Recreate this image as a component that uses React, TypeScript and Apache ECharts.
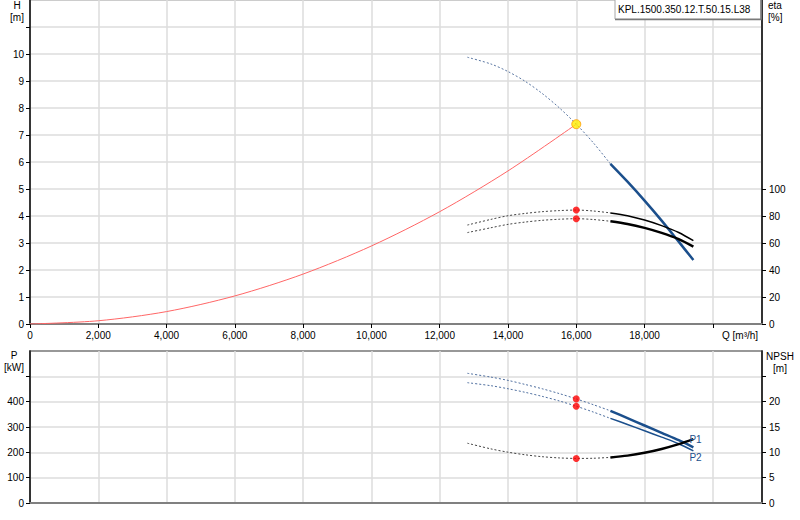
import React, { useEffect, useRef } from 'react';
import * as echarts from 'echarts';

// flow axis (m³/h)
const Q_MAX = 21440;
const X_TICKS = [0, 2000, 4000, 6000, 8000, 10000, 12000, 14000, 16000, 18000, 20000];
const X_LABELS = [0, 2000, 4000, 6000, 8000, 10000, 12000, 14000, 16000, 18000];

// axis tick / label values
const H_TICKS = [0, 1, 2, 3, 4, 5, 6, 7, 8, 9, 10, 11];
const H_LABELS = [0, 1, 2, 3, 4, 5, 6, 7, 8, 9, 10];
const ETA_TICKS = [0, 20, 40, 60, 80, 100];
const P_TICKS = [0, 100, 200, 300, 400, 500];
const P_LABELS = [0, 100, 200, 300, 400];
const NPSH_TICKS = [0, 5, 10, 15, 20, 25];
const NPSH_LABELS = [0, 5, 10, 15, 20];

// system curve
const Q_SYSTEM = [0, 2000, 4000, 6000, 8000, 10000, 12000, 14000, 16000];
const H_SYSTEM = [0, 0.12, 0.46, 1.04, 1.85, 2.89, 4.16, 5.67, 7.4];

// pump curves: dashed part (outside range) and solid part
const Q_DASH = [12810, 13500, 14000, 14500, 15000, 15500, 16000, 16500, 17000];
const Q_SOLID = [17000, 17500, 18000, 18500, 19000, 19430];

const H_DASH = [9.88, 9.63, 9.35, 8.99, 8.54, 8.01, 7.4, 6.71, 5.93];
const H_SOLID = [5.93, 5.27, 4.57, 3.83, 3.05, 2.37];

const ETA1_DASH = [73.3, 77.5, 80.2, 81.9, 83.2, 84.0, 84.4, 83.7, 82.3];
const ETA1_SOLID = [82.3, 80.2, 77.0, 72.9, 67.8, 61.7];
const ETA2_DASH = [67.7, 71.3, 73.8, 75.5, 76.8, 77.6, 78.0, 77.4, 76.1];
const ETA2_SOLID = [76.1, 74.1, 71.2, 67.5, 62.9, 57.3];

const P1_DASH = [512, 497, 484, 468, 451, 432, 411, 388, 364];
const P1_SOLID = [364, 335, 306, 277, 248, 220];
const P2_DASH = [475, 463, 451, 437, 421, 403, 382, 359, 334];
const P2_SOLID = [334, 310, 285, 260, 234, 206];

const NPSH_DASH = [11.8, 10.68, 10.03, 9.52, 9.14, 8.9, 8.8, 8.83, 9.0];
const NPSH_SOLID = [9.0, 9.35, 9.9, 10.66, 11.61, 12.6];

// duty point
const Q_DUTY = 16000;
const H_DUTY = 7.4;
const ETA_DUTY = [84.4, 78.0];
const P_DUTY = [411, 382];
const NPSH_DUTY = 8.8;

const FONT = 'Liberation Sans';
const BLUE = '#1b4f8c';

const pairs = (xs: number[], ys: number[]) => xs.map((x, i) => [x, ys[i]]);
const fmt = (v: number) => v.toLocaleString('en-US');
const last = (a: number[]) => a[a.length - 1];

const curve = (
  xs: number[],
  ys: number[],
  xi: number,
  yi: number,
  color: string,
  width: number,
  dashed: boolean,
) => ({
  type: 'line',
  xAxisIndex: xi,
  yAxisIndex: yi,
  data: pairs(xs, ys),
  smooth: 0.3,
  symbol: 'none',
  silent: true,
  z: dashed ? 3 : 4,
  itemStyle: { color },
  lineStyle: { color, width, type: dashed ? [2, 2] : 'solid' },
});

const dots = (xi: number, yi: number, points: number[][], size = 7) => ({
  type: 'scatter',
  xAxisIndex: xi,
  yAxisIndex: yi,
  data: points,
  symbolSize: size,
  silent: true,
  z: 6,
  itemStyle: { color: '#ff0000' },
});

// curve name tag placed at the last point of a curve
const tag = (text: string, xs: number[], ys: number[], xi: number, yi: number, offset: number[]) => ({
  type: 'scatter',
  xAxisIndex: xi,
  yAxisIndex: yi,
  data: [[last(xs), last(ys)]],
  symbolSize: 0,
  silent: true,
  z: 8,
  itemStyle: { color: BLUE, opacity: 1 },
  label: {
    show: true,
    formatter: text,
    position: 'right',
    distance: 0,
    offset,
    color: BLUE,
    opacity: 1,
    textBorderWidth: 0,
    fontSize: 10,
    fontFamily: FONT,
  },
});

const xAxisBase = (grid: number, labels: boolean) => ({
  gridIndex: grid,
  type: 'value',
  min: 0,
  max: Q_MAX,
  interval: 2000,
  axisLine: { show: true, onZero: false, lineStyle: { color: '#808080', width: 2 } },
  axisTick: labels
    ? { show: true, length: 4, customValues: X_TICKS, lineStyle: { color: '#000' } }
    : { show: false },
  axisLabel: labels
    ? { customValues: X_LABELS, formatter: fmt, color: '#000', fontSize: 10, margin: 6, fontFamily: FONT }
    : { show: false },
  splitLine: { show: true, lineStyle: { color: '#dcdcdc', width: 1.5 } },
});

const yAxisBase = (
  grid: number,
  position: 'left' | 'right',
  max: number,
  interval: number,
  ticks: number[],
  labels: number[],
  split: boolean,
) => ({
  gridIndex: grid,
  type: 'value',
  position,
  min: 0,
  max,
  interval,
  axisLine: { show: true, lineStyle: { color: '#000', width: 1.5 } },
  axisTick: { show: true, length: 4, customValues: ticks, lineStyle: { color: '#000' } },
  axisLabel: {
    customValues: labels,
    color: '#000',
    fontSize: 10,
    margin: position === 'left' ? 6 : 7,
    fontFamily: FONT,
  },
  splitLine: { show: split, lineStyle: { color: '#dcdcdc', width: 1.5 } },
});

const label = (text: string, x: number, y: number, align = 'center') => ({
  type: 'text',
  x,
  y,
  silent: true,
  style: { text, fill: '#000', fontSize: 10, fontFamily: FONT, align, verticalAlign: 'middle' },
});

const option: any = {
  animation: false,
  textStyle: { fontFamily: FONT },
  grid: [
    { left: 30, top: 0, width: 732, height: 324, show: true, borderColor: '#999', borderWidth: 1, outerBoundsMode: 'none' },
    { left: 30, top: 351, width: 732, height: 152, show: true, borderColor: '#777', borderWidth: 1.5, outerBoundsMode: 'none' },
  ],
  xAxis: [xAxisBase(0, true), xAxisBase(1, false)],
  yAxis: [
    yAxisBase(0, 'left', 12, 1, H_TICKS, H_LABELS, true),
    yAxisBase(0, 'right', 240, 20, ETA_TICKS, ETA_TICKS, false),
    yAxisBase(1, 'left', 600, 100, P_TICKS, P_LABELS, true),
    yAxisBase(1, 'right', 30, 5, NPSH_TICKS, NPSH_LABELS, false),
  ],
  graphic: [
    label('H', 17, 5),
    label('[m]', 17, 17),
    label('eta', 768, 5, 'left'),
    label('[%]', 768, 17, 'left'),
    label('Q [m³/h]', 722, 335, 'left'),
    label('P', 14, 355),
    label('[kW]', 14, 367),
    label('NPSH', 780, 356),
    label('[m]', 780, 368),
    {
      type: 'rect',
      silent: true,
      shape: { x: 615, y: -1, width: 146, height: 20 },
      style: { fill: '#fff', stroke: '#a8a8a8', lineWidth: 1 },
      z: 10,
    },
    {
      type: 'polyline',
      silent: true,
      shape: { points: [[761, 0], [761, 19.5], [615, 19.5]] },
      style: { stroke: '#7a7a7a', lineWidth: 1.5, fill: 'none' },
      z: 10,
    },
    { ...label('KPL.1500.350.12.T.50.15.L38', 618, 9.5, 'left'), z: 11 },
  ],
  series: [
    // top chart
    curve(Q_SYSTEM, H_SYSTEM, 0, 0, '#ff6666', 1, false),
    curve(Q_DASH, H_DASH, 0, 0, '#5c78a3', 1, true),
    curve(Q_SOLID, H_SOLID, 0, 0, BLUE, 2.5, false),
    curve(Q_DASH, ETA1_DASH, 0, 1, '#444', 1, true),
    curve(Q_SOLID, ETA1_SOLID, 0, 1, '#000', 1.5, false),
    curve(Q_DASH, ETA2_DASH, 0, 1, '#444', 1, true),
    curve(Q_SOLID, ETA2_SOLID, 0, 1, '#000', 2.5, false),
    dots(0, 1, ETA_DUTY.map((e) => [Q_DUTY, e])),
    {
      type: 'scatter',
      xAxisIndex: 0,
      yAxisIndex: 0,
      data: [[Q_DUTY, H_DUTY]],
      symbolSize: 9,
      silent: true,
      z: 7,
      itemStyle: { color: '#ffee00', borderColor: '#ff9a00', borderWidth: 1 },
    },
    // bottom chart
    curve(Q_DASH, P1_DASH, 1, 2, '#4f6f9f', 1, true),
    curve(Q_SOLID, P1_SOLID, 1, 2, BLUE, 2.5, false),
    curve(Q_DASH, P2_DASH, 1, 2, '#4f6f9f', 1, true),
    curve(Q_SOLID, P2_SOLID, 1, 2, BLUE, 1.5, false),
    curve(Q_DASH, NPSH_DASH, 1, 3, '#444', 1, true),
    curve(Q_SOLID, NPSH_SOLID, 1, 3, '#000', 2.5, false),
    dots(1, 2, P_DUTY.map((p) => [Q_DUTY, p])),
    dots(1, 3, [[Q_DUTY, NPSH_DUTY]]),
    tag('P1', Q_SOLID, P1_SOLID, 1, 2, [-4, -8]),
    tag('P2', Q_SOLID, P2_SOLID, 1, 2, [-4, 7]),
  ],
};

export default function App() {
  const chartRef = useRef<HTMLDivElement>(null);

  useEffect(() => {
    if (!chartRef.current) return;
    const chart = echarts.init(chartRef.current, null, { renderer: 'svg' });
    chart.setOption(option);
    return () => {
      chart.dispose();
    };
  }, []);

  return (
    <div
      ref={chartRef}
      style={{ position: 'fixed', left: 0, top: 0, width: 800, height: 520, background: '#fff' }}
    />
  );
}
